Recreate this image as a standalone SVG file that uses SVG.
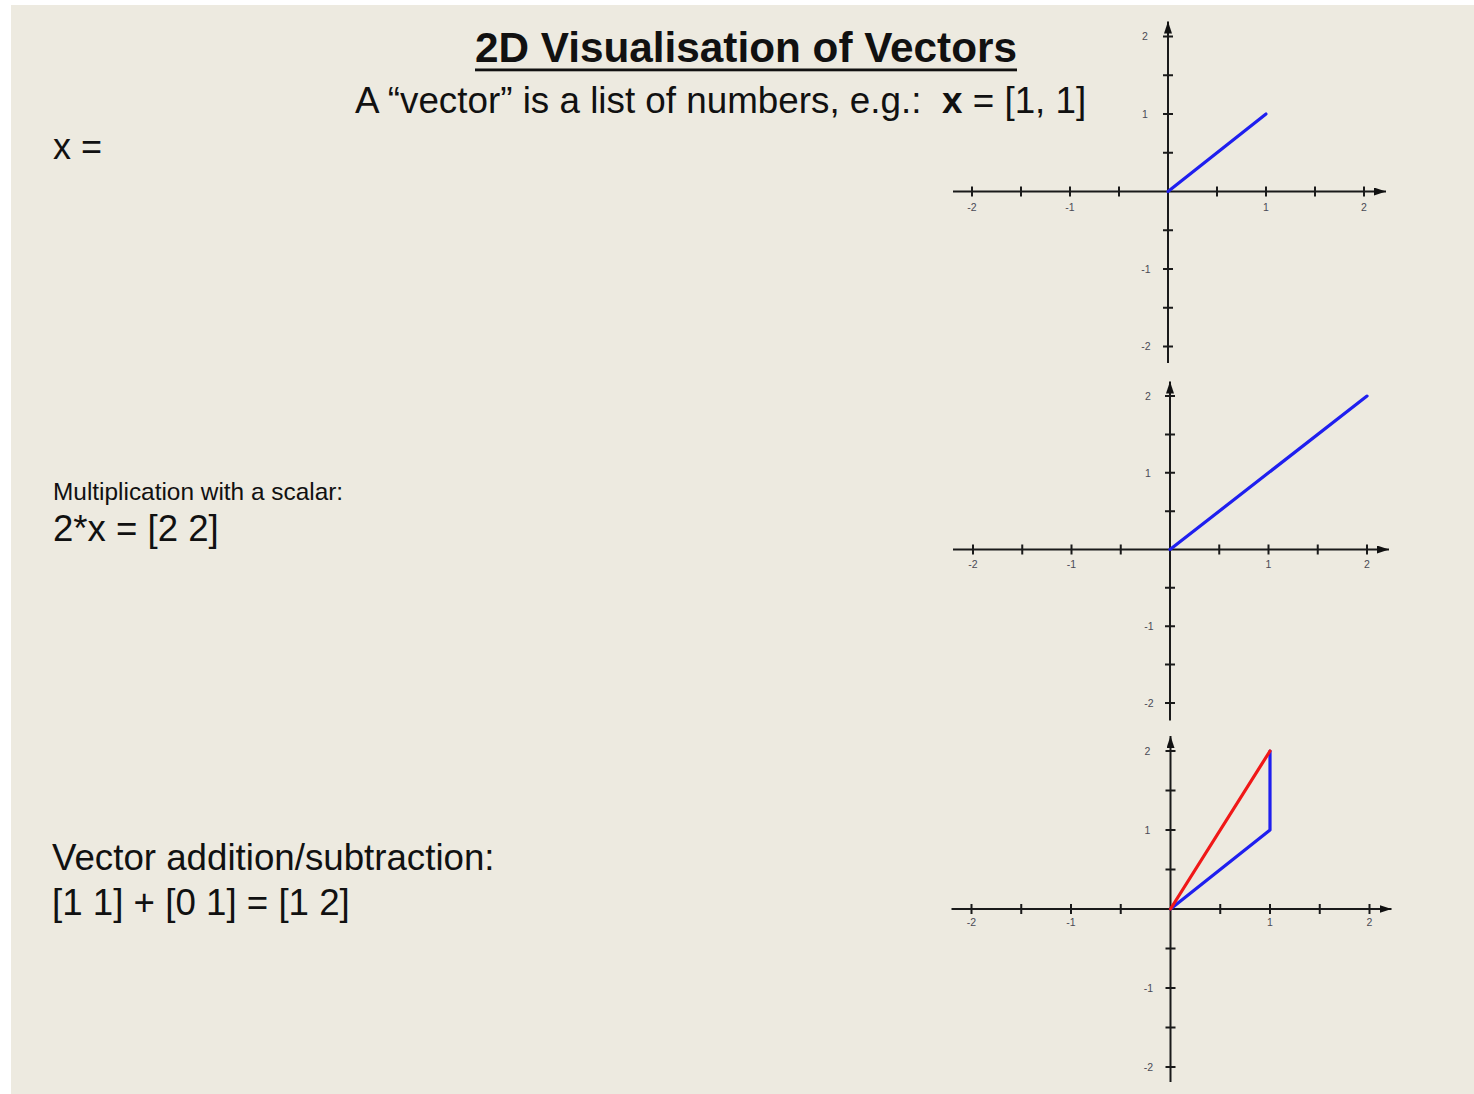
<svg xmlns="http://www.w3.org/2000/svg" width="1474" height="1094" viewBox="0 0 1474 1094">
  <style>
    .txt { font-family: "Liberation Sans", Arial, sans-serif; fill: #111; }
    .axis { stroke: #1a1a1a; stroke-width: 2; fill: none; }
    .tick { stroke: #1a1a1a; stroke-width: 2; }
    .lbl { font-family: "Liberation Sans", Arial, sans-serif; font-size: 10.5px; fill: #4a4a55; text-anchor: middle; }
    .vb { stroke: #1f1fef; stroke-width: 3.2; fill: none; stroke-linejoin: round; stroke-linecap: round; }
    .vr { stroke: #f01818; stroke-width: 3.2; fill: none; stroke-linecap: round; }
  </style>
  <defs>
    <marker id="arr" markerUnits="userSpaceOnUse" markerWidth="14" markerHeight="10" refX="12" refY="4" orient="auto">
      <path d="M0,0 L12,4 L0,8 z" fill="#111"/>
    </marker>
  </defs>
  <rect x="0" y="0" width="1474" height="1094" fill="#ffffff"/>
  <rect x="11" y="5" width="1463" height="1089" fill="#EDEAE0"/>

  <g id="title">
    <text class="txt" x="475" y="62" font-size="42" font-weight="bold" textLength="542" lengthAdjust="spacingAndGlyphs">2D Visualisation of Vectors</text>
    <rect x="475" y="68.5" width="542" height="2.8" fill="#111"/>
  </g>
  <g id="subtitle">
    <text class="txt" x="355" y="113" font-size="36.8">A “vector” is a list of numbers, e.g.:<tspan x="942" font-weight="bold">x</tspan> = [1, 1]</text>
  </g>
  <g id="x-label">
    <text class="txt" x="53" y="159" font-size="36">x =</text>
  </g>
  <g id="scalar-label">
    <text class="txt" x="53" y="500" font-size="24.4" fill="#222">Multiplication with a scalar:</text>
    <text class="txt" x="53" y="541" font-size="36.6">2*x = [2 2]</text>
  </g>
  <g id="addition-label">
    <text class="txt" x="52" y="870" font-size="36.7">Vector addition/subtraction:</text>
    <text class="txt" x="52" y="915" font-size="36.7">[1 1] + [0 1] = [1 2]</text>
  </g>

  <!-- Graph 1 -->
  <g id="graph1" transform="translate(1168,191.5)">
    <line class="axis" x1="-215" y1="0" x2="218" y2="0" marker-end="url(#arr)"/>
    <line class="axis" x1="0" y1="171.5" x2="0" y2="-170" marker-end="url(#arr)"/>
    <path class="tick" d="M-196,-5V5M-147,-5V5M-98,-5V5M-49,-5V5M49,-5V5M98,-5V5M147,-5V5M196,-5V5"/>
    <path class="tick" d="M-5,-155H5M-5,-116.25H5M-5,-77.5H5M-5,-38.75H5M-5,38.75H5M-5,77.5H5M-5,116.25H5M-5,155H5"/>
    <text class="lbl" x="-196" y="19">-2</text>
    <text class="lbl" x="-98" y="19">-1</text>
    <text class="lbl" x="98" y="19">1</text>
    <text class="lbl" x="196" y="19">2</text>
    <text class="lbl" x="-23" y="-151.5">2</text>
    <text class="lbl" x="-23" y="-74">1</text>
    <text class="lbl" x="-22" y="81">-1</text>
    <text class="lbl" x="-22" y="158.5">-2</text>
    <line class="vb" x1="0" y1="0" x2="98" y2="-77.5"/>
  </g>

  <!-- Graph 2 -->
  <g id="graph2" transform="translate(1170,549.5)">
    <line class="axis" x1="-217" y1="0" x2="219" y2="0" marker-end="url(#arr)"/>
    <line class="axis" x1="0" y1="171" x2="0" y2="-168" marker-end="url(#arr)"/>
    <path class="tick" d="M-197,-5V5M-147.75,-5V5M-98.5,-5V5M-49.25,-5V5M49.25,-5V5M98.5,-5V5M147.75,-5V5M197,-5V5"/>
    <path class="tick" d="M-5,-153.4H5M-5,-115.05H5M-5,-76.7H5M-5,-38.35H5M-5,38.35H5M-5,76.7H5M-5,115.05H5M-5,153.4H5"/>
    <text class="lbl" x="-197" y="18">-2</text>
    <text class="lbl" x="-98.5" y="18">-1</text>
    <text class="lbl" x="98.5" y="18">1</text>
    <text class="lbl" x="197" y="18">2</text>
    <text class="lbl" x="-22" y="-149.5">2</text>
    <text class="lbl" x="-22" y="-73">1</text>
    <text class="lbl" x="-21" y="80.5">-1</text>
    <text class="lbl" x="-21" y="157">-2</text>
    <line class="vb" x1="0" y1="0" x2="197" y2="-153.4"/>
  </g>

  <!-- Graph 3 -->
  <g id="graph3" transform="translate(1170.5,909)">
    <line class="axis" x1="-219" y1="0" x2="221" y2="0" marker-end="url(#arr)"/>
    <line class="axis" x1="0" y1="173" x2="0" y2="-173" marker-end="url(#arr)"/>
    <path class="tick" d="M-199,-5V5M-149.25,-5V5M-99.5,-5V5M-49.75,-5V5M49.75,-5V5M99.5,-5V5M149.25,-5V5M199,-5V5"/>
    <path class="tick" d="M-5,-158H5M-5,-118.5H5M-5,-79H5M-5,-39.5H5M-5,39.5H5M-5,79H5M-5,118.5H5M-5,158H5"/>
    <text class="lbl" x="-199" y="17">-2</text>
    <text class="lbl" x="-99.5" y="17">-1</text>
    <text class="lbl" x="99.5" y="17">1</text>
    <text class="lbl" x="199" y="17">2</text>
    <text class="lbl" x="-23" y="-154.5">2</text>
    <text class="lbl" x="-23" y="-75.5">1</text>
    <text class="lbl" x="-22" y="82.5">-1</text>
    <text class="lbl" x="-22" y="161.5">-2</text>
    <polyline class="vb" points="0,0 99.5,-79 99.5,-158"/>
    <line class="vr" x1="0" y1="0" x2="99.5" y2="-158"/>
  </g>
</svg>
